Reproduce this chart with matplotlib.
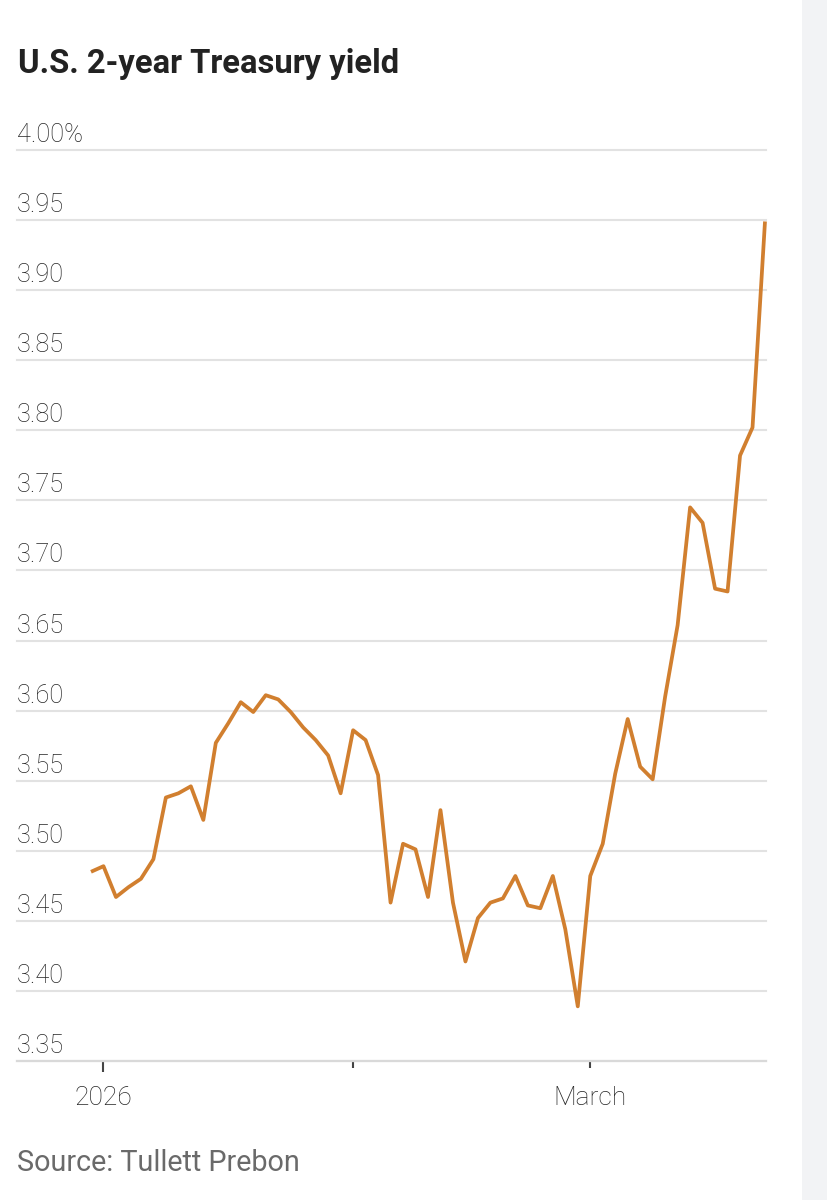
import matplotlib
matplotlib.use("Agg")
import matplotlib.pyplot as plt
import matplotlib.transforms as mtransforms
from matplotlib.patches import Rectangle
from matplotlib import font_manager as fm

# ---------------- data ----------------
title = "U.S. 2-year Treasury yield"
source = "Source: Tullett Prebon"

trade_dates = [
    "2025-12-31",
    "2026-01-02", "2026-01-05", "2026-01-06", "2026-01-07", "2026-01-08", "2026-01-09",
    "2026-01-12", "2026-01-13", "2026-01-14", "2026-01-15", "2026-01-16",
    "2026-01-20", "2026-01-21", "2026-01-22", "2026-01-23",
    "2026-01-26", "2026-01-27", "2026-01-28", "2026-01-29", "2026-01-30",
    "2026-02-02", "2026-02-03", "2026-02-04", "2026-02-05", "2026-02-06",
    "2026-02-09", "2026-02-10", "2026-02-11", "2026-02-12", "2026-02-13",
    "2026-02-17", "2026-02-18", "2026-02-19", "2026-02-20",
    "2026-02-23", "2026-02-24", "2026-02-25", "2026-02-26", "2026-02-27",
    "2026-03-02", "2026-03-03", "2026-03-04", "2026-03-05", "2026-03-06",
    "2026-03-09", "2026-03-10", "2026-03-11", "2026-03-12", "2026-03-13",
    "2026-03-16", "2026-03-17", "2026-03-18", "2026-03-19", "2026-03-20",
]

yields = [
    3.485,
    3.489, 3.467, 3.474, 3.480, 3.494, 3.538,
    3.541, 3.546, 3.522, 3.577, 3.591,
    3.606, 3.599, 3.611, 3.608,
    3.599, 3.588, 3.579, 3.568, 3.541,
    3.586, 3.579, 3.554, 3.463, 3.505,
    3.501, 3.467, 3.529, 3.463, 3.421,
    3.452, 3.463, 3.466, 3.482,
    3.461, 3.459, 3.482, 3.444, 3.389,
    3.482, 3.505, 3.555, 3.594, 3.560,
    3.551, 3.610, 3.661, 3.745, 3.734,
    3.687, 3.685, 3.782, 3.802, 3.949,
]

y_ticks = [3.35, 3.40, 3.45, 3.50, 3.55, 3.60, 3.65, 3.70, 3.75, 3.80, 3.85, 3.90, 3.95, 4.00]
y_tick_labels = ["3.35", "3.40", "3.45", "3.50", "3.55", "3.60", "3.65",
                 "3.70", "3.75", "3.80", "3.85", "3.90", "3.95", "4.00%"]
x_tick_dates = ["2026-01-02", "2026-02-02", "2026-03-02"]
x_tick_labels = ["2026", "", "March"]

# ---------------- style ----------------
available = {f.name for f in fm.fontManager.ttflist}
base_font = "Roboto" if "Roboto" in available else "DejaVu Sans"
plt.rcParams["font.family"] = [base_font, "DejaVu Sans"]

LINE_COLOR = "#d17f2f"
GRID_COLOR = "#e2e2e2"
TEXT_COLOR = "#262626"

W, H = 828, 1200
fig = plt.figure(figsize=(W / 100, H / 100), dpi=100)
fig.patch.set_facecolor("white")

# light strip on the right edge
fig.patches.append(Rectangle((802 / W, 0), 26 / W, 1, transform=fig.transFigure,
                             facecolor="#f2f3f5", edgecolor="none", zorder=0))

left_px, right_px, top_px, bottom_px = 17, 766, 150, 1061
ax = fig.add_axes([left_px / W, 1 - bottom_px / H,
                   (right_px - left_px) / W, (bottom_px - top_px) / H])
ax.set_facecolor("none")

x = list(range(len(yields)))
x_tick_pos = [trade_dates.index(d) for d in x_tick_dates]
step = (765 - 91) / (len(yields) - 1)
ax.set_xlim(-(91 - left_px) / step, (len(yields) - 1) + (right_px - 765) / step)
ax.set_ylim(3.35, 4.00)

for s in ["left", "right", "top"]:
    ax.spines[s].set_visible(False)
ax.spines["bottom"].set_color("#d9d9d9")
ax.spines["bottom"].set_linewidth(1.6)

ax.set_yticks(y_ticks)
ax.tick_params(axis="y", length=0, labelleft=False)
ax.yaxis.grid(True, color=GRID_COLOR, linewidth=1.5)
for gl in ax.get_ygridlines():
    gl.set_clip_on(False)
ax.set_axisbelow(True)

ax.plot(x, yields, color=LINE_COLOR, linewidth=2.7, solid_joinstyle="round",
        solid_capstyle="butt", clip_on=False, zorder=3)

ax.set_xticks(x_tick_pos)
ax.set_xticklabels(x_tick_labels)
ax.tick_params(axis="x", length=5, width=1.5, color="#444444", pad=13,
               labelsize=19, labelcolor=TEXT_COLOR)
ax.xaxis.get_major_ticks()[0].tick1line.set_markersize(8)
for lab in ax.get_xticklabels():
    lab.set_fontweight("light")

# y tick labels sit above their grid lines, left aligned
ytrans = mtransforms.offset_copy(ax.get_yaxis_transform(), fig=fig, x=0, y=8, units="dots")
for v, lab in zip(y_ticks, y_tick_labels):
    ax.text(0, v, lab, transform=ytrans, ha="left", va="baseline",
            fontsize=18.3, fontweight="light", color=TEXT_COLOR)

fig.text(18 / W, 1 - 73 / H, title, ha="left", va="baseline",
         fontsize=23.6, fontweight="bold", color="#222222")
fig.text(17 / W, 1 - 1171 / H, source, ha="left", va="baseline",
         fontsize=20.7, color="#6a6a6a")

fig.savefig("out.png", dpi=100, facecolor="white")
